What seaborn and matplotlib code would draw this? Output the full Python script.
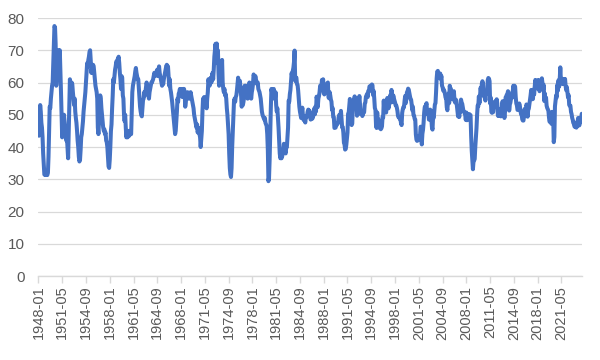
import matplotlib
matplotlib.use("Agg")
import matplotlib.pyplot as plt
import seaborn as sns
import pandas as pd

# Monthly index values, 1948-01 .. 2024-03
pmi_1948_1959 = [
    52.0, 43.5, 49.0, 53.0, 51.0, 47.5, 46.0, 43.0, 38.0, 35.0, 31.5, 31.3,
    32.0, 31.3, 31.5, 31.3, 32.0, 37.0, 45.0, 52.5, 52.0, 55.0, 57.0, 59.0,
    60.0, 66.0, 72.0, 77.5, 77.0, 72.0, 59.0, 62.0, 66.0, 69.0, 70.0, 68.0,
    70.0, 64.0, 57.0, 50.0, 43.0, 45.0, 48.0, 50.0, 48.0, 46.0, 44.0, 42.0,
    43.0, 40.0, 36.5, 45.0, 55.0, 61.0, 59.0, 57.0, 60.0, 59.5, 57.0, 55.0,
    53.0, 55.0, 51.0, 49.0, 47.5, 45.0, 42.0, 40.0, 37.0, 35.5, 36.0, 39.0,
    43.0, 44.0, 46.0, 48.0, 51.0, 53.0, 55.0, 57.0, 60.0, 63.0, 66.0, 65.0,
    67.0, 68.0, 69.5, 70.0, 67.0, 63.0, 64.0, 63.0, 65.5, 65.0, 63.0, 61.0,
    59.0, 58.0, 57.0, 55.0, 46.0, 44.0, 48.0, 53.0, 56.0, 55.0, 52.0, 50.0,
    48.0, 46.0, 45.0, 45.5, 44.0, 44.5, 42.0, 41.5, 40.0, 37.0, 34.0, 33.5,
    36.0, 40.0, 45.0, 47.0, 52.0, 56.0, 61.0, 60.0, 62.0, 64.0, 65.0, 66.5,
    66.0, 67.0, 67.5, 68.0, 66.0, 63.0, 61.0, 58.0, 62.0, 61.5, 56.0, 55.0,
]
pmi_1960_1969 = [
    50.0, 48.0, 50.0, 46.0, 43.0, 44.5, 43.0, 45.0, 44.0, 43.5, 45.0, 44.0,
    44.0, 50.0, 57.0, 59.0, 60.0, 61.0, 62.0, 63.5, 64.5, 63.0, 62.0, 61.0,
    61.0, 58.0, 55.0, 52.5, 51.0, 50.0, 49.5, 52.0, 54.5, 55.0, 57.0, 56.0,
    57.0, 58.5, 60.0, 59.0, 57.5, 56.0, 55.0, 57.0, 58.0, 59.0, 60.0, 60.0,
    60.5, 61.0, 62.0, 63.0, 62.0, 62.5, 63.0, 63.5, 64.0, 62.0, 63.5, 65.0,
    63.0, 62.0, 61.0, 60.0, 59.0, 60.0, 59.5, 61.0, 62.0, 63.0, 64.0, 65.0,
    65.5, 64.0, 65.0, 62.0, 59.0, 61.0, 58.0, 57.0, 55.5, 54.0, 52.0, 50.0,
    48.0, 46.0, 44.0, 45.0, 48.0, 51.0, 55.0, 54.0, 56.5, 57.0, 58.0, 57.0,
    58.0, 56.0, 55.5, 57.0, 58.0, 58.0, 57.0, 52.5, 54.0, 56.0, 56.5, 57.0,
    55.0, 56.0, 56.5, 55.0, 57.0, 56.0, 55.0, 54.0, 53.0, 52.0, 50.0, 49.0,
]
pmi_1970_1979 = [
    48.0, 47.0, 46.0, 47.0, 44.5, 46.0, 45.0, 44.0, 43.0, 40.0, 42.5, 45.0,
    51.0, 55.0, 54.0, 55.5, 54.0, 53.0, 54.0, 52.0, 55.0, 57.0, 61.0, 60.0,
    59.0, 60.0, 61.5, 60.0, 62.0, 63.0, 61.0, 64.0, 68.0, 70.0, 72.0, 69.0,
    72.1, 66.0, 70.0, 63.0, 59.0, 60.0, 65.0, 66.5, 62.0, 67.0, 60.0, 58.0,
    57.0, 58.0, 56.0, 56.5, 55.0, 52.0, 50.0, 47.0, 44.0, 38.0, 33.5, 31.5,
    30.7, 33.5, 40.0, 44.5, 49.0, 54.0, 55.0, 54.0, 55.5, 56.0, 57.5, 59.5,
    61.5, 60.0, 58.0, 60.5, 58.0, 56.0, 52.5, 53.5, 53.0, 54.0, 55.5, 59.0,
    57.0, 59.0, 58.0, 56.0, 55.0, 57.5, 59.0, 60.0, 58.0, 56.0, 55.0, 57.0,
    58.0, 59.5, 62.5, 62.0, 61.0, 62.0, 61.0, 60.0, 59.5, 60.0, 58.0, 57.5,
    57.0, 56.0, 55.0, 53.0, 51.0, 50.0, 49.5, 49.0, 48.5, 49.0, 47.5, 47.0,
]
pmi_1980_1989 = [
    46.5, 44.0, 39.0, 29.4, 30.5, 36.0, 44.0, 52.0, 58.0, 57.0, 55.0, 56.0,
    58.0, 56.0, 55.0, 57.0, 53.0, 51.0, 52.0, 49.0, 46.0, 42.0, 38.0, 36.5,
    37.0, 36.5, 37.0, 38.0, 39.0, 41.0, 40.0, 38.5, 38.0, 40.0, 40.0, 43.0,
    46.0, 54.4, 54.0, 56.4, 57.7, 60.4, 62.9, 61.8, 63.6, 64.6, 66.4, 69.9,
    60.5, 61.3, 61.5, 59.5, 59.3, 57.5, 55.0, 52.5, 51.0, 50.0, 49.0, 50.5,
    52.2, 49.8, 48.4, 49.2, 48.2, 47.6, 49.6, 49.2, 49.8, 51.0, 51.6, 50.9,
    51.3, 50.2, 48.5, 49.2, 50.2, 48.8, 49.8, 50.6, 51.9, 50.1, 52.5, 51.0,
    55.6, 54.7, 52.4, 55.0, 55.8, 57.0, 59.0, 59.0, 58.3, 60.8, 59.7, 61.0,
    56.8, 56.3, 57.7, 57.1, 57.5, 58.5, 59.8, 60.0, 55.4, 55.1, 57.0, 56.0,
    54.7, 54.1, 51.5, 52.1, 49.3, 49.2, 45.9, 46.0, 46.0, 46.8, 46.8, 47.4,
]
pmi_1990_1999 = [
    47.4, 49.1, 49.9, 50.0, 49.5, 51.2, 48.6, 46.1, 46.2, 44.5, 41.3, 40.8,
    39.2, 39.4, 40.7, 42.7, 44.5, 50.3, 50.6, 52.9, 54.9, 53.1, 49.5, 46.8,
    47.3, 52.7, 54.6, 52.6, 55.7, 53.6, 53.9, 53.4, 49.7, 50.6, 53.5, 54.2,
    55.8, 53.3, 50.2, 50.5, 51.2, 49.6, 50.2, 50.7, 50.8, 53.4, 53.8, 55.6,
    56.0, 56.5, 55.5, 57.4, 57.2, 58.8, 58.5, 58.0, 59.0, 59.4, 59.2, 56.1,
    57.4, 55.1, 52.1, 51.5, 46.7, 45.9, 50.7, 47.0, 48.6, 46.1, 46.4, 45.8,
    45.5, 45.8, 46.4, 49.4, 49.1, 54.4, 50.9, 51.9, 51.0, 50.7, 53.0, 55.2,
    53.8, 52.0, 53.1, 53.5, 56.1, 54.6, 57.7, 56.3, 53.9, 56.0, 55.1, 54.5,
    53.8, 52.9, 52.9, 52.2, 51.2, 49.6, 49.2, 49.3, 48.7, 48.7, 47.4, 46.8,
    50.6, 51.7, 52.4, 52.3, 54.3, 55.8, 53.6, 54.8, 57.0, 57.2, 58.1, 57.8,
]
pmi_2000_2009 = [
    56.7, 55.8, 54.9, 54.7, 53.2, 51.4, 52.5, 49.9, 49.7, 48.7, 48.5, 43.9,
    42.3, 41.9, 43.1, 43.2, 42.1, 43.2, 43.5, 46.3, 46.2, 40.8, 44.1, 45.3,
    47.5, 50.7, 52.4, 52.4, 53.1, 53.6, 50.2, 50.3, 50.5, 48.5, 48.5, 51.6,
    51.3, 48.8, 46.2, 45.4, 49.4, 49.0, 51.0, 53.2, 53.6, 57.0, 61.3, 63.4,
    63.6, 61.4, 62.5, 62.4, 62.8, 61.1, 62.0, 59.0, 58.5, 57.5, 57.8, 57.3,
    56.4, 55.3, 55.2, 52.3, 51.4, 53.8, 56.6, 53.6, 59.0, 58.1, 58.0, 55.6,
    54.8, 56.7, 55.2, 57.3, 54.4, 53.8, 54.7, 54.5, 52.9, 51.2, 49.5, 51.4,
    49.3, 52.3, 50.9, 54.7, 53.8, 53.4, 52.3, 51.2, 51.0, 50.4, 50.0, 48.4,
    50.7, 48.3, 48.6, 48.6, 49.6, 50.2, 50.0, 49.9, 43.5, 38.9, 36.2, 33.1,
    35.6, 35.8, 36.3, 40.1, 42.8, 45.8, 49.9, 52.9, 52.6, 55.7, 53.6, 55.9,
]
pmi_2010_2019 = [
    58.4, 56.5, 59.6, 60.4, 59.7, 56.2, 55.5, 56.3, 54.4, 56.9, 56.6, 57.0,
    60.8, 61.4, 61.2, 60.4, 53.5, 55.3, 50.9, 50.6, 51.6, 50.8, 52.7, 53.9,
    54.1, 52.4, 53.4, 54.8, 53.5, 49.7, 49.8, 49.6, 51.5, 51.7, 49.5, 50.7,
    53.1, 54.2, 51.3, 50.7, 49.0, 50.9, 55.4, 55.7, 56.2, 56.4, 57.3, 57.0,
    51.3, 53.2, 53.7, 54.9, 55.4, 55.3, 57.1, 59.0, 56.6, 59.0, 58.7, 55.5,
    53.5, 52.9, 51.5, 51.5, 52.8, 53.5, 52.7, 51.1, 50.2, 50.1, 48.6, 48.2,
    48.2, 49.5, 51.8, 50.8, 51.3, 53.2, 52.6, 49.4, 51.5, 51.9, 53.2, 54.7,
    56.0, 57.7, 57.2, 54.8, 54.9, 57.8, 56.3, 58.8, 60.8, 58.7, 58.2, 59.7,
    59.1, 60.8, 59.3, 57.3, 58.7, 60.2, 58.1, 61.3, 59.8, 57.7, 59.3, 54.3,
    56.6, 54.2, 55.3, 52.8, 52.1, 51.7, 51.2, 49.1, 47.8, 48.3, 48.1, 47.2,
]
pmi_2020_2024 = [
    50.9, 50.1, 49.1, 41.5, 43.1, 52.6, 54.2, 56.0, 55.4, 59.3, 57.5, 60.7,
    58.7, 60.8, 64.7, 60.7, 61.2, 60.6, 59.5, 59.9, 61.1, 60.8, 61.1, 58.8,
    57.6, 58.6, 57.1, 55.4, 56.1, 53.0, 52.8, 52.8, 50.9, 50.2, 49.0, 48.4,
    47.4, 47.7, 46.3, 47.1, 46.9, 46.0, 46.4, 47.6, 49.0, 46.7, 46.7, 47.4,
    49.1, 47.8, 50.3,
]

pmi = (pmi_1948_1959 + pmi_1960_1969 + pmi_1970_1979 + pmi_1980_1989
       + pmi_1990_1999 + pmi_2000_2009 + pmi_2010_2019 + pmi_2020_2024)
months = [f"{y}-{m:02d}" for y in range(1948, 2025) for m in range(1, 13)][:len(pmi)]
tick_step = 40
y_ticks = [0, 10, 20, 30, 40, 50, 60, 70, 80]

df = pd.DataFrame({"pos": range(len(pmi)), "month": months, "pmi": pmi})

sns.set_theme(style="white")
plt.rcParams["font.family"] = ["Liberation Sans", "DejaVu Sans"]

fig = plt.figure(figsize=(6, 3.6), dpi=100)
ax = fig.add_axes([0.064, 0.2333, 0.9055, 0.7167])
sns.lineplot(data=df, x="pos", y="pmi", ax=ax, color="#4472C4", linewidth=2.9)

ax.set_xlim(0, len(pmi) - 1)
ax.set_ylim(0, 80)
ax.set_yticks(y_ticks)
ax.set_xticks(df["pos"][::tick_step])
ax.set_xticklabels(df["month"][::tick_step], rotation=90)
ax.grid(axis="y", color="#D9D9D9", linewidth=0.9)
ax.set_axisbelow(True)
for s in ["left", "top", "right"]:
    ax.spines[s].set_visible(False)
ax.spines["bottom"].set_color("#D9D9D9")
ax.spines["bottom"].set_linewidth(1.0)
ax.tick_params(axis="x", bottom=True, length=5, width=1.0, color="#D9D9D9",
               direction="out", pad=2, labelsize=10.5, labelcolor="#595959")
ax.tick_params(axis="y", left=False, length=0, pad=10, labelsize=11, labelcolor="#595959")
ax.set_xlabel("")
ax.set_ylabel("")

fig.savefig("out.png", dpi=100)
